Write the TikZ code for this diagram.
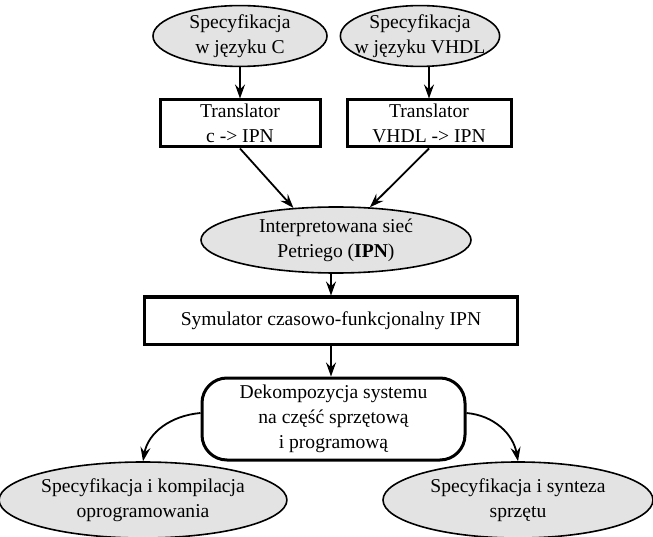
\documentclass[tikz,border=0pt]{standalone}
\usepackage{fontspec}
\setmainfont{Liberation Serif}
\usetikzlibrary{shapes.geometric,arrows.meta}

\tikzset{
  spec/.style={ellipse, draw, line width=1.6pt, fill=black!11, inner sep=0pt, align=center},
  proc/.style={rectangle, draw, line width=3pt, fill=white, inner sep=0pt, align=center},
  flow/.style={-{Stealth[length=14pt,width=10pt,inset=5pt]}, line width=1.8pt}
}

\begin{document}
\begin{tikzpicture}[x=1pt, y=-1pt, font=\fontsize{19.6}{25}\selectfont]
  \useasboundingbox (0,0) rectangle (653,537);
  \node[spec, minimum width=174pt, minimum height=58pt] (specC) at (240,36) {Specyfikacja\\w języku C};
  \node[spec, minimum width=153pt, minimum height=58pt, inner xsep=-9pt] (specV) at (420,36) {Specyfikacja\\w języku VHDL};
  \node[proc, minimum width=160pt, minimum height=47pt] (trC) at (240,123.5) {Translator\\c -> IPN};
  \node[proc, minimum width=164pt, minimum height=47pt] (trV) at (429,123.5) {Translator\\VHDL -> IPN};
  \node[spec, minimum width=270pt, minimum height=66pt] (ipn) at (336,240) {Interpretowana sieć\\Petriego (\textbf{IPN})};
  \node[proc, minimum width=373pt, minimum height=47pt] (sym) at (331,320.5) {Symulator czasowo-funkcjonalny IPN};
  \node[proc, rounded corners=25pt, minimum width=263pt, minimum height=82pt] (dek) at (333.5,419) {Dekompozycja systemu\\na część sprzętową\\i programową};
  \node[spec, minimum width=283pt, minimum height=76pt] (sw) at (143,500) {Specyfikacja i kompilacja\\oprogramowania};
  \node[spec, minimum width=270pt, minimum height=76pt] (hw) at (518,500) {Specyfikacja i synteza\\sprzętu};

  \path[flow]
  (specC) edge (trC)
  (specV.south -| trV.north) edge (trV.north)
  (trC.south) edge (ipn.143)
  (trV.south) edge (ipn.44)
  (sym.north |- ipn.south) edge (sym.north)
  (sym.south) edge (sym.south |- dek.north)
  ([yshift=6pt]dek.west) edge[out=185, in=80] (sw.north)
  ([yshift=6pt]dek.east) edge[out=-5, in=100] (hw.north)
  ;
\end{tikzpicture}
\end{document}
